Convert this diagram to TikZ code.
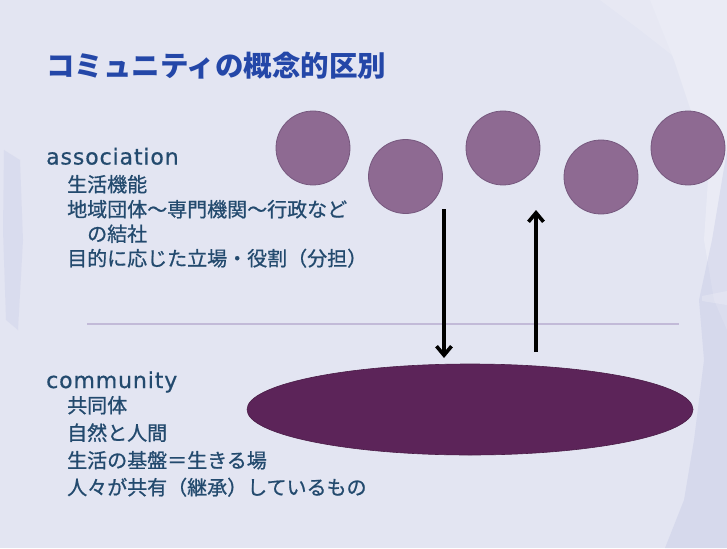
\documentclass[tikz,border=0pt]{standalone}
\usepackage{fontspec}
\setmainfont{Noto Sans CJK JP}
\newfontfamily\jpbody[FakeBold=0.8]{Noto Sans CJK JP}
\newfontfamily\latinfont[LetterSpace=4,FakeBold=0.6]{DejaVu Sans}
\usetikzlibrary{arrows.meta,shapes.geometric}
\definecolor{bgc}{HTML}{E3E5F2}
\definecolor{titlec}{HTML}{2447A8}
\definecolor{textc}{HTML}{234A6E}
\definecolor{circc}{HTML}{8E6A92}
\definecolor{circb}{HTML}{76587E}
\definecolor{ellc}{HTML}{5C2459}
\definecolor{linec}{HTML}{C2BAD8}
\definecolor{brushc}{HTML}{B9BEE0}
\tikzset{
  ball/.style={circle, minimum size=74pt, inner sep=0pt, fill=circc, draw=circb, line width=0.8pt},
  base/.style={ellipse, minimum width=446pt, minimum height=91pt, inner sep=0pt, fill=ellc, draw=ellc!80!black, line width=0.6pt},
  jtext/.style={anchor=west, inner sep=0pt, text=textc, font=\fontsize{20}{24}\jpbody, text height=0.88em, text depth=0.12em},
  ltext/.style={anchor=base west, inner sep=0pt, text=textc, font=\fontsize{22}{24}\latinfont},
  ttext/.style={anchor=west, inner sep=0pt, text=titlec, font=\fontsize{28.5}{32}\selectfont\bfseries, text height=0.88em, text depth=0.12em},
  flow/.style={line width=3.6pt, -{Straight Barb[length=9pt,width=15pt,line width=3.6pt]}}
}
\begin{document}
\begin{tikzpicture}[x=1pt,y=-1pt]
\useasboundingbox (0,0) rectangle (727,548);
\fill[bgc] (0,0) rectangle (727,548);
% background brush texture
\fill[white,opacity=0.25] (650,0) -- (727,0) -- (727,330) -- (714,300) -- (704,240) -- (708,180) -- (694,120) -- (674,60) -- cycle;
\fill[white,opacity=0.15] (600,0) -- (650,0) -- (672,55) -- (640,30) -- cycle;
\fill[brushc,opacity=0.3] (727,150) -- (727,548) -- (665,548) -- (684,500) -- (694,440) -- (704,360) -- (699,300) -- (712,240) -- cycle;
\fill[white,opacity=0.2] (702,296) -- (727,291) -- (727,305) -- (702,301) -- cycle;
\fill[brushc,opacity=0.22] (4,150) -- (20,160) -- (23,240) -- (18,330) -- (6,320) -- (3,230) -- cycle;
% title
\node[ttext] (title) at (46,72.5) {コミュニティの概念的区別};
% association block
\node[ltext] (assoc) at (46,164.5) {association};
\node[jtext] (a1) at (67,188) {生活機能};
\node[jtext] (a2) at (67,213) {地域団体～専門機関～行政など};
\node[jtext] (a3) at (87,237.5) {の結社};
\node[jtext] (a4) at (67,262) {目的に応じた立場・役割（分担）};
% divider
\coordinate (dl) at (87,324);
\coordinate (dr) at (679,324);
\draw[linec, line width=1.3pt] (dl) -- (dr);
% community block
\node[ltext] (comm) at (46,388) {community};
\node[jtext] (c1) at (67,409) {共同体};
\node[jtext] (c2) at (67,436.5) {自然と人間};
\node[jtext] (c3) at (67,464) {生活の基盤＝生きる場};
\node[jtext] (c4) at (67,491) {人々が共有（継承）しているもの};
% circles
\node[ball] (b1) at (313,148) {};
\node[ball] (b2) at (405.5,176.5) {};
\node[ball] (b3) at (503,148) {};
\node[ball] (b4) at (601,177) {};
\node[ball] (b5) at (688,148) {};
% ellipse
\node[base] (ground) at (470,409.5) {};
% arrows
\coordinate (d1) at (444,209);
\coordinate (d2) at (444,358);
\coordinate (u1) at (536,352);
\coordinate (u2) at (536,210);
\draw[flow] (d1) -- (d2);
\draw[flow] (u1) -- (u2);
\end{tikzpicture}
\end{document}
